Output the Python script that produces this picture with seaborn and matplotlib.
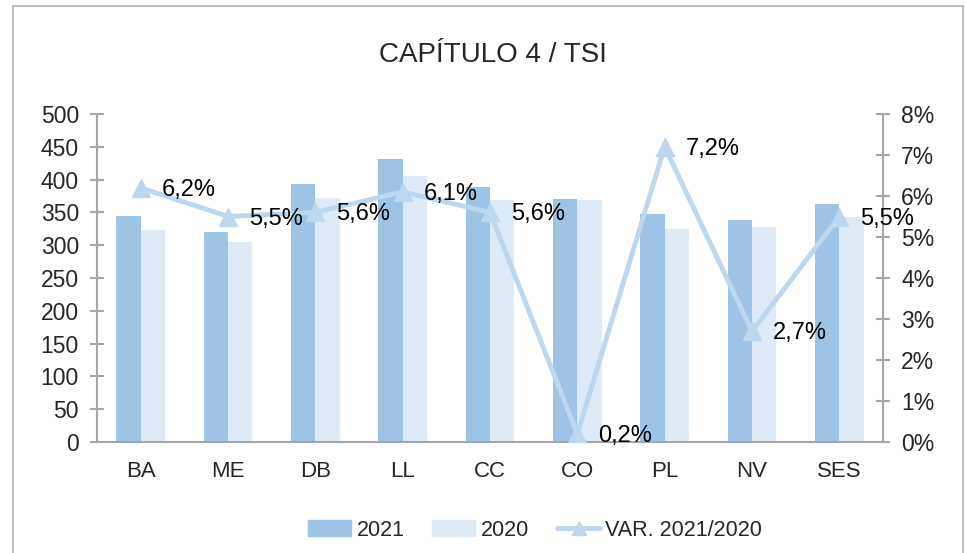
import numpy as np
import pandas as pd
import matplotlib
matplotlib.use('Agg')
import matplotlib.pyplot as plt
from matplotlib.patches import Rectangle, Patch
from matplotlib.lines import Line2D
import seaborn as sns

# datos
categorias = ['BA', 'ME', 'DB', 'LL', 'CC', 'CO', 'PL', 'NV', 'SES']
valores_2021 = [344, 320, 393, 431, 388, 371, 348, 338, 363]
valores_2020 = [323, 305, 372, 406, 369, 369, 325, 328, 343]
variacion = [6.2, 5.5, 5.6, 6.1, 5.6, 0.2, 7.2, 2.7, 5.5]
etiquetas_var = ['6,2%', '5,5%', '5,6%', '6,1%', '5,6%', '0,2%', '7,2%', '2,7%', '5,5%']
anios = ['2021', '2020']

sns.set_style('white')
plt.rcParams['font.family'] = ['Liberation Sans', 'DejaVu Sans']

c2021 = '#9dc3e6'
c2020 = '#deebf7'
c_linea = '#bdd7ee'
c_eje = '#a6a6a6'

df = pd.DataFrame({
    'cat': categorias * 2,
    'valor': valores_2021 + valores_2020,
    'anio': [anios[0]] * len(categorias) + [anios[1]] * len(categorias),
})

fig = plt.figure(figsize=(9.66, 5.53), dpi=100)
ax = fig.add_axes([97 / 966, 1 - 442 / 553, (883 - 97) / 966, (442 - 114) / 553])

sns.barplot(data=df, x='cat', y='valor', hue='anio', hue_order=anios,
            palette=[c2021, c2020], width=0.56, gap=0, saturation=1,
            linewidth=0, ax=ax, legend=False)
ax.set_xlim(-0.5, len(categorias) - 0.5)
ax.set_ylim(0, 500)
ax.set_yticks(np.arange(0, 501, 50))
ax.set_xlabel('')
ax.set_ylabel('')

# eje secundario con la variación
ax2 = ax.twinx()
x_pos = np.arange(len(categorias))
ax2.plot(x_pos, variacion, color=c_linea, lw=3.5, marker='^', markersize=13,
         markerfacecolor=c_linea, markeredgecolor=c_linea)
ax2.set_ylim(0, 8)
ax2.set_yticks(np.arange(0, 9, 1))
ax2.set_yticklabels([f'{i}%' for i in range(9)])
for x, v, t in zip(x_pos, variacion, etiquetas_var):
    ax2.annotate(t, (x, v), xytext=(15, -1.5), textcoords='offset points',
                 ha='left', va='center', fontsize=17, color='black')

for a in (ax, ax2):
    for s in a.spines.values():
        s.set_color(c_eje)
        s.set_linewidth(1.5)
    a.spines['top'].set_visible(False)
ax.spines['right'].set_visible(False)
ax2.spines['left'].set_visible(False)
ax2.spines['bottom'].set_visible(False)

ax.set_xticks(np.arange(-0.5, len(categorias), 1), minor=True)
ax.tick_params(axis='x', which='major', length=0, pad=14, labelsize=16)
ax.tick_params(axis='x', which='minor', length=10, width=1.5, color=c_eje,
               direction='inout')
ax.tick_params(axis='y', length=10, width=1.5, color=c_eje, direction='inout',
               pad=8, labelsize=16.5, left=True)
ax2.tick_params(axis='y', length=10, width=1.5, color=c_eje, direction='inout',
                pad=8, labelsize=16.5, right=True)

fig.text(0.51, 1 - 55 / 553, 'CAPÍTULO 4 / TSI', ha='center', va='center',
         fontsize=20)

handles = [Patch(color=c2021), Patch(color=c2020),
           Line2D([0], [0], color=c_linea, lw=3.5, marker='^', markersize=10)]
fig.legend(handles, ['2021', '2020', 'VAR. 2021/2020'], loc='center',
           bbox_to_anchor=(0.554, 1 - 530 / 553), ncol=3, frameon=False,
           fontsize=15.5, handlelength=2.0, handleheight=0.7,
           handletextpad=0.25, columnspacing=1.3)

fig.patches.append(Rectangle((13 / 966, -0.1), 950 / 966, 1.1 - 6 / 553,
                             transform=fig.transFigure, fill=False,
                             edgecolor='#bfbfbf', lw=1.5))

fig.savefig('out.png', dpi=100)
